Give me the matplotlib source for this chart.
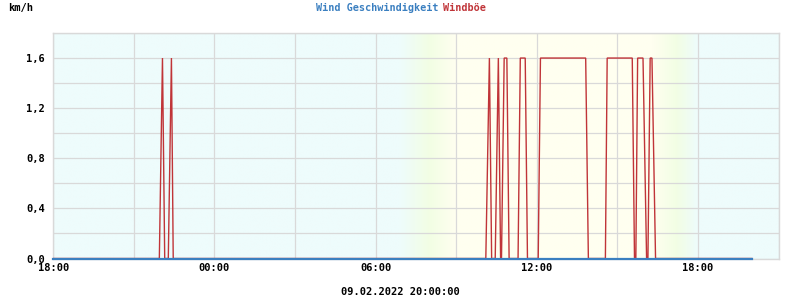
import matplotlib
matplotlib.use("Agg")
import matplotlib.pyplot as plt
import matplotlib.dates as mdates
import numpy as np
import pandas as pd

# ---- data ----
wind_times = ["2022-02-08 18:00", "2022-02-09 20:00"]
wind_values = [0.0, 0.0]

gust_times = [
    "2022-02-08 18:00",
    "2022-02-08 21:57", "2022-02-08 22:04", "2022-02-08 22:09",
    "2022-02-08 22:17", "2022-02-08 22:24", "2022-02-08 22:28",
    "2022-02-09 10:06", "2022-02-09 10:14", "2022-02-09 10:19",
    "2022-02-09 10:27", "2022-02-09 10:34", "2022-02-09 10:39",
    "2022-02-09 10:41", "2022-02-09 10:47", "2022-02-09 10:53", "2022-02-09 10:58",
    "2022-02-09 11:18", "2022-02-09 11:23", "2022-02-09 11:34", "2022-02-09 11:39",
    "2022-02-09 12:03", "2022-02-09 12:08", "2022-02-09 13:49", "2022-02-09 13:55",
    "2022-02-09 14:33", "2022-02-09 14:37", "2022-02-09 15:33", "2022-02-09 15:38",
    "2022-02-09 15:41", "2022-02-09 15:45", "2022-02-09 15:57", "2022-02-09 16:05",
    "2022-02-09 16:08", "2022-02-09 16:13", "2022-02-09 16:17", "2022-02-09 16:25",
    "2022-02-09 20:00",
]
gust_values = [
    0.0,
    0.0, 1.6, 0.0,
    0.0, 1.6, 0.0,
    0.0, 1.6, 0.0,
    0.0, 1.6, 0.0,
    0.0, 1.6, 1.6, 0.0,
    0.0, 1.6, 1.6, 0.0,
    0.0, 1.6, 1.6, 0.0,
    0.0, 1.6, 1.6, 0.0,
    0.0, 1.6, 1.6, 0.0,
    0.0, 1.6, 1.6, 0.0,
    0.0,
]

y_ticks = [0.0, 0.4, 0.8, 1.2, 1.6]
y_tick_labels = ["0,0", "0,4", "0,8", "1,2", "1,6"]
x_start = "2022-02-08 18:00"
x_end = "2022-02-09 21:00"
unit_label = "km/h"
series_names = ["Wind Geschwindigkeit", "Windböe"]
date_label = "09.02.2022 20:00:00"

# ---- style ----
BLUE = "#3a7fc0"
RED = "#c03438"
GRID = "#d9d9d9"
FONT = "DejaVu Sans Mono"

fig = plt.figure(figsize=(8, 3), dpi=100)
ax = fig.add_axes([53.2 / 800, 1 - 258.5 / 300, (778.7 - 53.2) / 800, (258.5 - 33) / 300])

t0 = mdates.date2num(pd.Timestamp(x_start))
t1 = mdates.date2num(pd.Timestamp(x_end))

# day/night background gradient (hours from start -> colour)
stops_h = [0, 12.9, 14.0, 15.0, 22.3, 23.2, 24.0, 27.0]
cyan = (238, 252, 252)
green = (242, 254, 228)
yellow = (255, 255, 240)
stop_cols = [cyan, cyan, green, yellow, yellow, green, cyan, cyan]
hh = np.linspace(0, 27, 1200)
cols = np.stack([np.interp(hh, stops_h, [c[i] for c in stop_cols]) for i in range(3)], axis=-1) / 255.0
ax.imshow(cols[np.newaxis, :, :], extent=[t0, t1, 0, 1.8], aspect="auto", zorder=0, interpolation="bilinear")

gt = mdates.date2num(pd.to_datetime(gust_times))
wt = mdates.date2num(pd.to_datetime(wind_times))
ax.plot(gt, gust_values, color=RED, lw=1.0, zorder=3, solid_joinstyle="miter")
ax.plot(wt, wind_values, color=BLUE, lw=1.6, zorder=4, clip_on=False)

ax.set_xlim(t0, t1)
ax.set_ylim(0, 1.8)

ax.xaxis.set_major_locator(mdates.HourLocator(byhour=[0, 6, 12, 18]))
ax.xaxis.set_minor_locator(mdates.HourLocator(byhour=range(0, 24, 3)))
ax.xaxis.set_major_formatter(mdates.DateFormatter("%H:%M"))
ax.set_yticks(y_ticks)
ax.set_yticklabels(y_tick_labels)
ax.set_yticks(np.arange(0, 1.81, 0.2), minor=True)

ax.grid(True, which="both", color=GRID, lw=0.9, zorder=1)
ax.set_axisbelow(True)
ax.tick_params(which="both", length=0)
ax.tick_params(axis="y", pad=6)
ax.tick_params(axis="x", pad=3)
for lab in ax.get_xticklabels() + ax.get_yticklabels():
    lab.set_fontfamily(FONT)
    lab.set_fontweight("bold")
    lab.set_fontsize(7.5)
for sp in ax.spines.values():
    sp.set_color(GRID)
    sp.set_linewidth(1.0)

fig.text(8 / 800, 1 - 8 / 300, unit_label, family=FONT, weight="bold", fontsize=7.5, va="center", ha="left")
cw = 6.07
left = 401 - 14 * cw
fig.text(left / 800, 1 - 8 / 300, series_names[0], family=FONT, weight="bold", fontsize=7.3, color=BLUE, va="center", ha="left")
fig.text((left + 21 * cw) / 800, 1 - 8 / 300, series_names[1], family=FONT, weight="bold", fontsize=7.3, color=RED, va="center", ha="left")
fig.text(400 / 800, 1 - 292 / 300, date_label, family=FONT, weight="bold", fontsize=7.5, va="center", ha="center")

fig.savefig("out.png", dpi=100)
